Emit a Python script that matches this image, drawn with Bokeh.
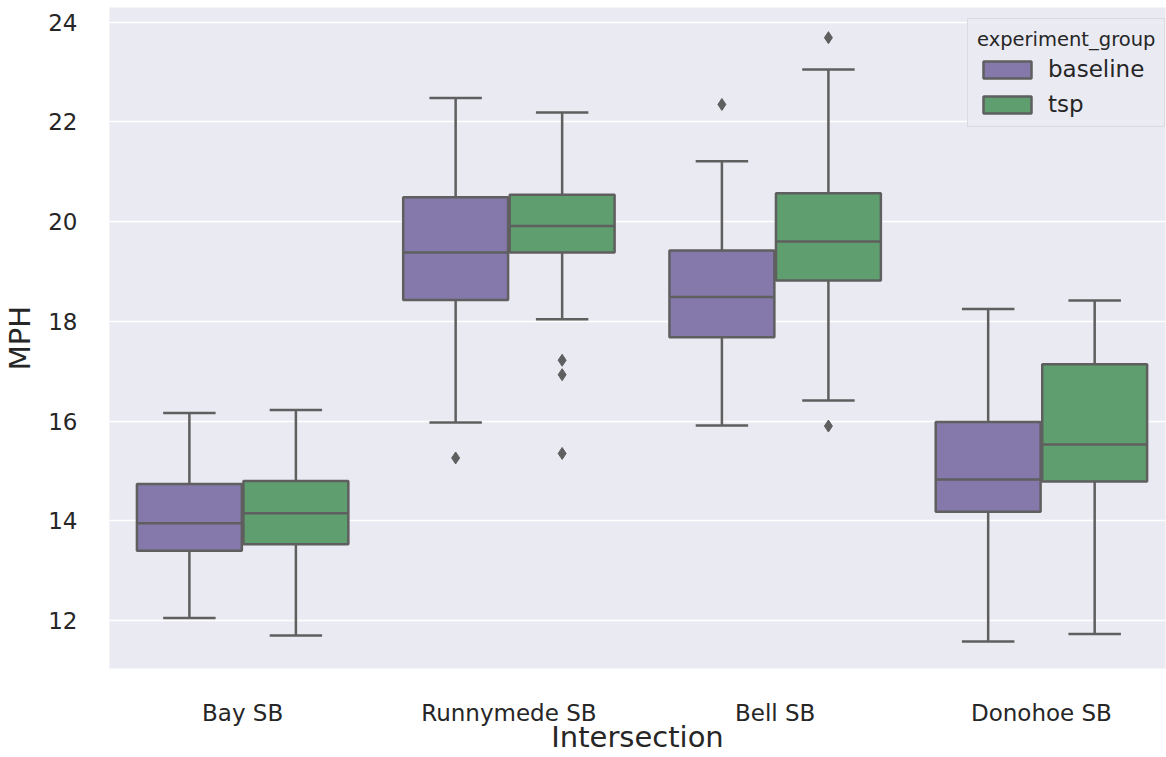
from bokeh.plotting import figure
from bokeh.models import FixedTicker, Legend, LegendItem, Range1d
from bokeh.embed import file_html
from bokeh.resources import INLINE

# ---------------- data ----------------
categories = ["Bay SB", "Runnymede SB", "Bell SB", "Donohoe SB"]
groups = ["baseline", "tsp"]

baseline_low = [12.05, 15.97, 15.91, 11.58]
baseline_q1 = [13.40, 18.43, 17.68, 14.18]
baseline_med = [13.95, 19.38, 18.49, 14.83]
baseline_q3 = [14.74, 20.49, 19.42, 15.98]
baseline_high = [16.16, 22.48, 21.21, 18.25]
baseline_out_cat = ["Runnymede SB", "Bell SB"]
baseline_out_val = [15.26, 22.35]

tsp_low = [11.70, 18.04, 16.41, 11.73]
tsp_q1 = [13.53, 19.38, 18.82, 14.79]
tsp_med = [14.15, 19.91, 19.60, 15.53]
tsp_q3 = [14.80, 20.54, 20.57, 17.14]
tsp_high = [16.22, 22.19, 23.05, 18.42]
tsp_out_cat = ["Runnymede SB", "Runnymede SB", "Runnymede SB", "Bell SB", "Bell SB"]
tsp_out_val = [17.22, 16.93, 15.35, 23.69, 15.90]

y_ticks = [12, 14, 16, 18, 20, 22, 24]
x_title = "Intersection"
y_title = "MPH"

# ---------------- styling ----------------
colors = {"baseline": "#8578AB", "tsp": "#5F9E6E"}
line_col = "#5f5f5f"
text_col = "#262626"
font = "DejaVu Sans"
box_w = 0.394
cap_w = 0.197
offsets = {"baseline": -0.2, "tsp": 0.2}

p = figure(width=1166, height=757, output_backend="svg", toolbar_location=None,
           x_range=Range1d(-0.5, 3.466), y_range=Range1d(11.037, 24.295),
           min_border_left=108, min_border_right=1, min_border_top=7, min_border_bottom=89,
           background_fill_color="#EAEAF2", border_fill_color="white",
           outline_line_color=None)

series = {
    "baseline": (baseline_low, baseline_q1, baseline_med, baseline_q3, baseline_high,
                 baseline_out_cat, baseline_out_val),
    "tsp": (tsp_low, tsp_q1, tsp_med, tsp_q3, tsp_high, tsp_out_cat, tsp_out_val),
}

renderers = {}
for g in groups:
    low, q1, med, q3, high, ocat, oval = series[g]
    xs = [categories.index(c) + offsets[g] for c in categories]
    # whiskers
    p.segment(x0=xs, x1=xs, y0=q3, y1=high, line_color=line_col, line_width=2.5)
    p.segment(x0=xs, x1=xs, y0=low, y1=q1, line_color=line_col, line_width=2.5)
    # caps
    p.segment(x0=[x - cap_w / 2 for x in xs], x1=[x + cap_w / 2 for x in xs],
              y0=high, y1=high, line_color=line_col, line_width=2.5)
    p.segment(x0=[x - cap_w / 2 for x in xs], x1=[x + cap_w / 2 for x in xs],
              y0=low, y1=low, line_color=line_col, line_width=2.5)
    # boxes
    r = p.vbar(x=xs, width=box_w, bottom=q1, top=q3, fill_color=colors[g],
               line_color=line_col, line_width=2.5)
    renderers[g] = r
    # medians
    p.segment(x0=[x - box_w / 2 for x in xs], x1=[x + box_w / 2 for x in xs],
              y0=med, y1=med, line_color=line_col, line_width=2.5)
    # outliers
    oxs = [categories.index(c) + offsets[g] for c in ocat]
    p.scatter(x=oxs, y=oval, marker="diamond", size=12, fill_color=line_col,
              line_color=line_col, line_width=1)

# grid
p.xgrid.visible = False
p.ygrid.ticker = FixedTicker(ticks=y_ticks)
p.ygrid.grid_line_color = "white"
p.ygrid.grid_line_width = 1.3

# axes
p.xaxis.ticker = FixedTicker(ticks=list(range(len(categories))))
p.xaxis.major_label_overrides = {i: c for i, c in enumerate(categories)}
p.yaxis.ticker = FixedTicker(ticks=y_ticks)
p.xaxis.axis_label = x_title
p.yaxis.axis_label = y_title
for ax in (p.xaxis[0], p.yaxis[0]):
    ax.axis_line_color = None
    ax.major_tick_line_color = None
    ax.minor_tick_line_color = None
    ax.major_tick_out = 0
    ax.major_tick_in = 0
    ax.major_label_text_font = font
    ax.major_label_text_font_size = "23px"
    ax.major_label_text_color = text_col
    ax.axis_label_text_font = font
    ax.axis_label_text_font_size = "29px"
    ax.axis_label_text_font_style = "normal"
    ax.axis_label_text_color = text_col
p.xaxis.major_label_standoff = 31
p.xaxis.axis_label_standoff = -9
p.yaxis.major_label_standoff = 32
p.yaxis.axis_label_standoff = 8

legend = Legend(
    items=[LegendItem(label=g, renderers=[renderers[g]]) for g in groups],
    title="experiment_group", location=(858, 541),
    title_text_font=font, title_text_font_size="19.5px", title_text_font_style="normal",
    title_text_color=text_col, title_standoff=5,
    label_text_font=font, label_text_font_size="23px", label_text_color=text_col,
    glyph_width=60, glyph_height=21, label_standoff=11, label_height=24,
    padding=9, spacing=9, margin=0,
    background_fill_color="#EAEAF2", background_fill_alpha=0.8,
    border_line_color="#cccccc", border_line_width=1,
)
p.add_layout(legend)

open("out.html", "w").write(file_html(p, INLINE))
